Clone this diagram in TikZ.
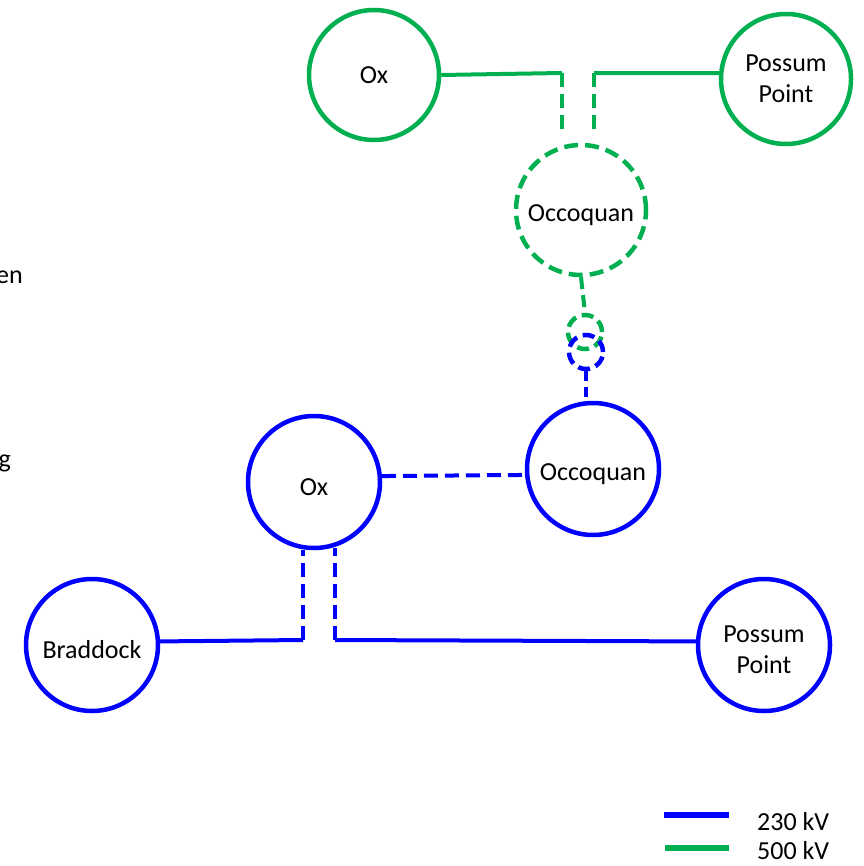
\documentclass[tikz,border=0pt]{standalone}
\usepackage{fontspec}
\setmainfont{Carlito}
\usepackage{tikz}
\usetikzlibrary{calc}
\definecolor{kvgreen}{HTML}{00B050}
\definecolor{kvblue}{HTML}{0000FF}
\newcommand{\dn}{\rule{0pt}{27pt}}

\begin{document}
\begin{tikzpicture}[x=1pt,y=-1pt,
  lbl/.style={font=\fontsize{26}{31}\selectfont,align=center,inner sep=0pt},
  gbus/.style={circle,draw=kvgreen,line width=4.5pt,minimum size=130pt,inner sep=0pt,lbl},
  bbus/.style={circle,draw=kvblue,line width=4.5pt,minimum size=132pt,inner sep=0pt,lbl},
  gring/.style={circle,draw=kvgreen,line width=4.5pt,minimum size=34pt,inner sep=0pt,dash pattern=on 12pt off 6pt},
  bring/.style={circle,draw=kvblue,line width=4.5pt,minimum size=34pt,inner sep=0pt,dash pattern=on 12pt off 6pt},
  gline/.style={draw=kvgreen,line width=4pt},
  bline/.style={draw=kvblue,line width=4pt},
  dsh/.style={dash pattern=on 14pt off 7pt}]
\useasboundingbox (0,0) rectangle (863,866);

% 500 kV
\node[gbus] (gox) at (374,75) {Ox};
\node[gbus] (gpp) at (786,79) {Possum\\Point};
\node[gbus,dsh] (gocc) at (581,210) {\dn Occoquan};
\node[gring] (gsm) at (585,332) {};
\coordinate (gj1) at (562,73);
\coordinate (gj2) at (594,73);
\coordinate (gd1) at (562,133);
\coordinate (gd2) at (594,133);
\draw[gline] (gox.east) -- (gj1);
\draw[gline,dsh] (gj1) -- (gd1);
\draw[gline] (gj2) -- (gpp.175);
\draw[gline,dsh] (gj2) -- (gd2);
\draw[gline,dash pattern=on 12pt off 6pt] (gocc.south) -- (gsm.north);

% 230 kV
\node[bring] (bsm) at (586,352) {};
\node[bbus] (bocc) at (593,469) {\dn Occoquan};
\node[bbus] (box) at (314,482) {\dn Ox};
\node[bbus] (brd) at (92,645) {\dn Braddock};
\node[bbus] (bpp) at (764,645) {\dn Possum\\Point};
\coordinate (bj1) at (303,640);
\coordinate (bj2) at (335,640);
\draw[bline,dash pattern=on 10pt off 6pt] (bsm.south) -- (bsm.south |- bocc.north);
\draw[bline,dsh] (box.5) -- (bocc.185);
\draw[bline] (brd.3) -- (bj1);
\draw[bline,dsh] (bj1) -- (bj1 |- box.south);
\draw[bline] (bj2) -- (bpp.177);
\draw[bline,dsh] (bj2) -- ($(bj2 |- box.south)+(0,-2)$);

% legend
\node[lbl,anchor=west] (l230) at (757,822) {230 kV};
\node[lbl,anchor=west] (l500) at (757,851) {500 kV};
\draw[kvblue,line width=6pt] (664,815) -- (729,815);
\draw[kvgreen,line width=6pt] (665,848) -- (729,848);

% cut-off text at the left edge
\node[lbl,anchor=east] (frag1) at (23,277) {en};
\node[lbl,anchor=east] (frag2) at (11,463) {g};
\end{tikzpicture}
\end{document}
